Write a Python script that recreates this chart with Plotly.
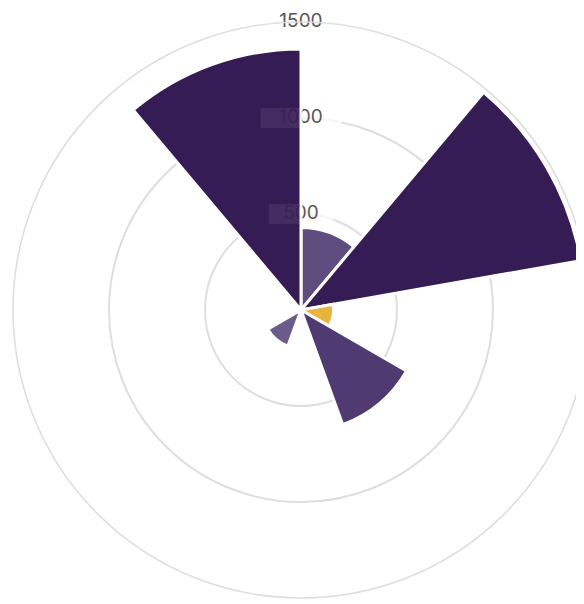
import plotly.graph_objects as go

# ---- data ----
sector_angles = [20, 60, 100, 140, 180, 220, 260, 300, 340]
sector_widths = [40, 40, 40, 40, 40, 40, 40, 40, 40]
values = [430, 1480, 170, 635, 0, 200, 0, 0, 1360]
bar_colors = ['#5e4d7e', '#361c54', '#e8b440', '#4f3b72', '#4f3b72',
              '#6a5b8b', '#361c54', '#361c54', '#361c54']

tick_values = [500, 1000, 1500]
tick_labels = ['500', '1000', '1500']
tick_theta = [0, 0, 0]

W, H = 584, 604
R = 288
cx, cy = 293, 302   # page has an 8px body margin
dom_x = [max(0.0, (cx - R) / W), min(1.0, (cx + R) / W)]
half = min(cy, H - cy)
dom_y = [max(0.0, (H - cy - half) / H), min(1.0, (H - cy + half) / H)]

label_font = dict(family='Inter', size=19, color='#585858')
label_marker = dict(symbol='line-ew', size=[46, 58, 60], color='white',
                    line=dict(color='white', width=20))

fig = go.Figure()
# layer 1: tick labels with white boxes (below the bars)
fig.add_trace(go.Scatterpolar(
    r=tick_values, theta=tick_theta, mode='markers+text', text=tick_labels,
    textposition='middle center', textfont=label_font, marker=label_marker,
    hoverinfo='skip', showlegend=False, subplot='polar'))
# layer 2: bars
fig.add_trace(go.Barpolar(
    r=values, theta=sector_angles, width=sector_widths,
    marker=dict(color=bar_colors, line=dict(color='white', width=3)),
    showlegend=False, subplot='polar2'))
# layer 3: faint labels over the bars
fig.add_trace(go.Scatterpolar(
    r=tick_values, theta=tick_theta, mode='markers+text', text=tick_labels,
    textposition='middle center', textfont=label_font, marker=label_marker,
    opacity=0.1, hoverinfo='skip', showlegend=False, subplot='polar3'))

grid_col = '#dedede'

def ang(showline):
    return dict(rotation=90, direction='clockwise', showgrid=False,
                showticklabels=False, ticks='', showline=showline,
                linecolor=grid_col, linewidth=1.6)

def rad(visible):
    return dict(range=[0, 1500], tickvals=tick_values, showticklabels=False,
                ticks='', showline=False, showgrid=visible,
                gridcolor=grid_col, gridwidth=1.6, angle=90)

fig.update_layout(
    width=W, height=H,
    margin=dict(l=0, r=0, t=0, b=0),
    paper_bgcolor='white',
    polar=dict(domain=dict(x=dom_x, y=dom_y), bgcolor='white',
               angularaxis=ang(True), radialaxis=rad(True)),
    polar2=dict(domain=dict(x=dom_x, y=dom_y), bgcolor='rgba(0,0,0,0)',
                angularaxis=ang(False), radialaxis=rad(False)),
    polar3=dict(domain=dict(x=dom_x, y=dom_y), bgcolor='rgba(0,0,0,0)',
                angularaxis=ang(False), radialaxis=rad(False)),
)

fig.write_html("out.html")
